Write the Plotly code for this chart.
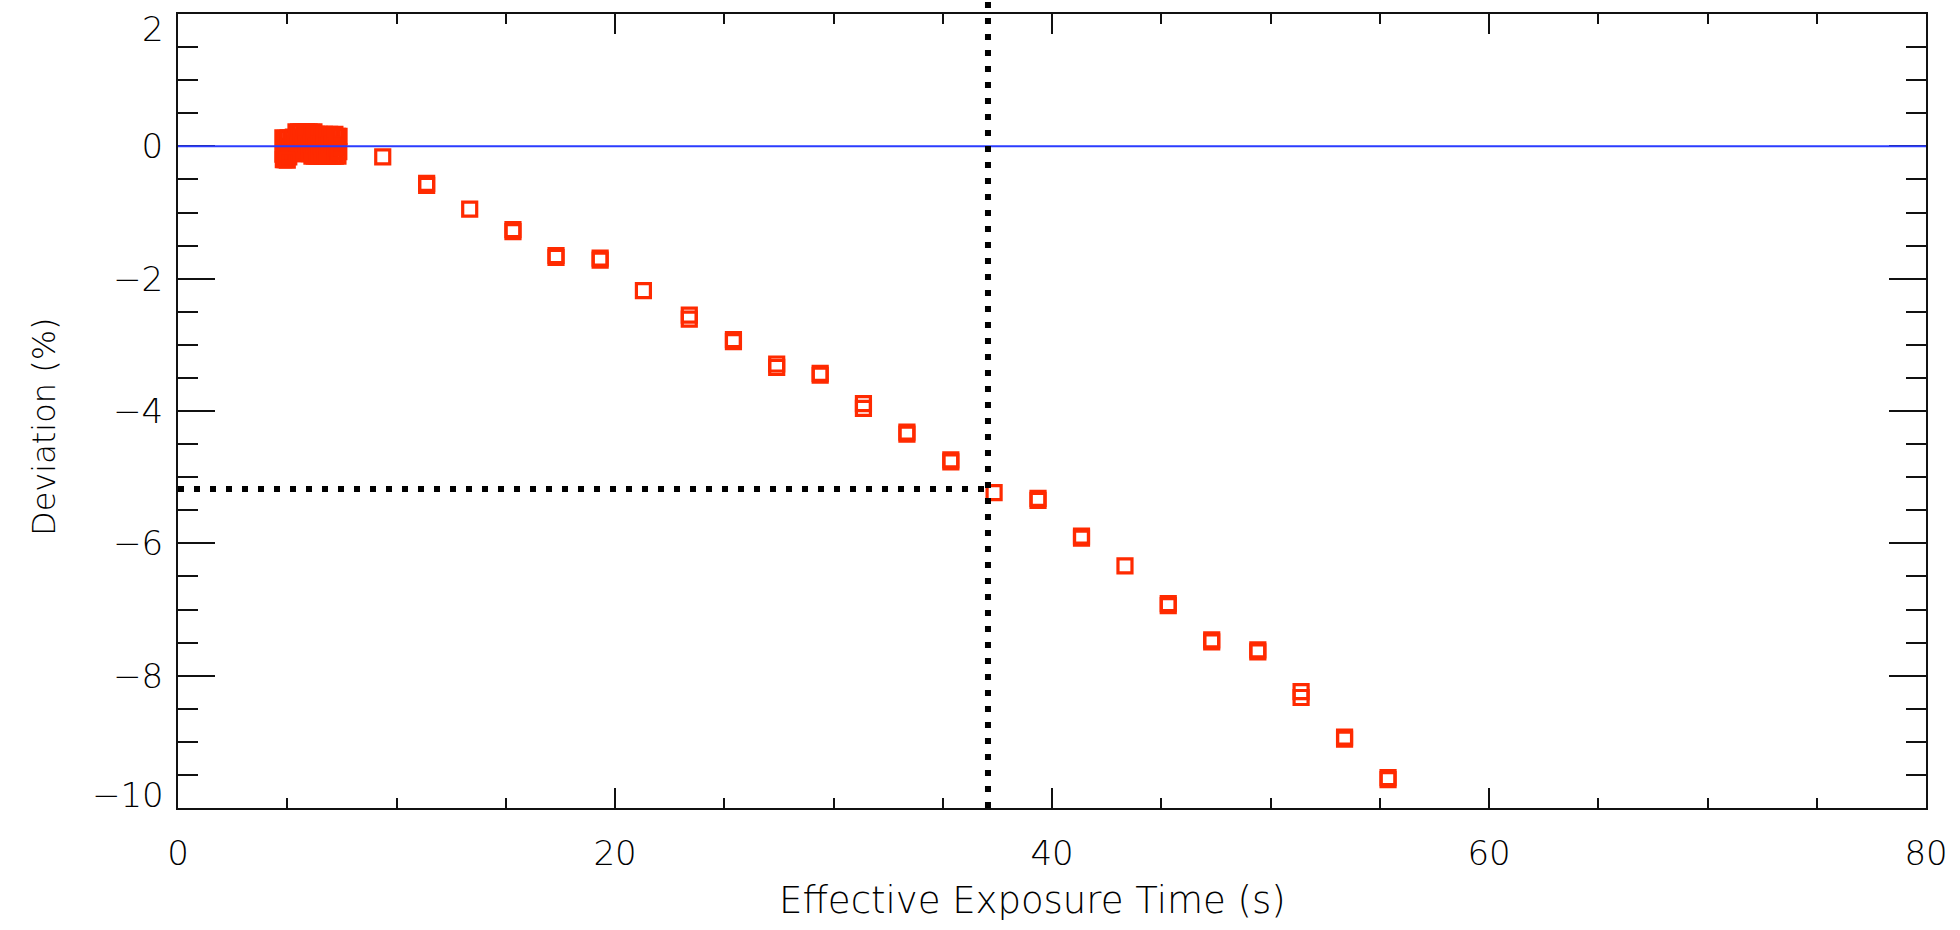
import plotly.graph_objects as go

# ---- data ----
# dense cluster of short exposures
cluster_x = [4.80, 4.84, 4.82, 4.92, 4.95, 4.90, 5.04, 5.06, 5.02, 5.16, 5.14, 5.17,
             5.28, 5.26, 5.29, 5.40, 5.38, 5.41, 5.52, 5.50, 5.53, 5.64, 5.62, 5.65,
             5.76, 5.74, 5.77, 5.88, 5.86, 5.89, 6.00, 5.98, 6.01, 6.12, 6.10, 6.13,
             6.22, 6.21, 6.24, 6.34, 6.33, 6.36, 6.46, 6.45, 6.48, 6.58, 6.57, 6.60,
             6.70, 6.69, 6.72, 6.82, 6.81, 6.84, 6.94, 6.93, 6.96, 7.06, 7.05, 7.08,
             7.18, 7.17, 7.20, 7.30, 7.29, 7.32, 7.37, 7.36,
             4.86, 4.96, 5.07, 4.80, 4.89, 5.00]
cluster_y = [0.13, -0.03, -0.20, 0.12, -0.02, -0.20, 0.13, 0.00, -0.10, 0.12, -0.03, -0.10,
             0.14, 0.02, -0.10, 0.22, 0.04, -0.10, 0.22, 0.02, -0.11, 0.22, 0.05, -0.10,
             0.21, 0.01, -0.11, 0.22, 0.03, -0.10, 0.22, 0.00, -0.11, 0.21, 0.04, -0.15,
             0.22, 0.02, -0.15, 0.18, 0.00, -0.15, 0.18, 0.03, -0.14, 0.17, 0.01, -0.15,
             0.18, 0.04, -0.15, 0.17, 0.00, -0.15, 0.18, 0.02, -0.14, 0.17, 0.03, -0.15,
             0.18, 0.00, -0.15, 0.15, -0.02, -0.15, 0.15, -0.08,
             -0.17, -0.19, -0.16, -0.12, -0.14, -0.21]

# longer exposures (pairs of near-identical measurements)
exp_x = [9.37, 11.38, 11.38, 13.35, 15.33, 15.33, 17.30, 17.30, 19.32, 19.32,
         21.30, 23.40, 23.40, 25.42, 25.42, 27.40, 27.40, 29.39, 29.39, 31.37, 31.37,
         33.36, 33.36, 35.37, 35.37, 37.35, 39.36, 39.36, 41.35, 41.35, 43.34,
         45.32, 45.32, 47.31, 47.31, 49.42, 49.42, 51.40, 51.40, 53.39, 53.39,
         55.38, 55.38]
exp_y = [-0.16, -0.56, -0.59, -0.95, -1.26, -1.29, -1.65, -1.68, -1.69, -1.72,
         -2.18, -2.55, -2.61, -2.92, -2.95, -3.29, -3.34, -3.43, -3.46, -3.89, -3.96,
         -4.32, -4.35, -4.74, -4.77, -5.235, -5.32, -5.35, -5.89, -5.92, -6.34,
         -6.91, -6.94, -7.46, -7.49, -7.61, -7.64, -8.24, -8.33, -8.93, -8.96,
         -9.54, -9.57]

ref_level = 0.0           # zero-deviation reference
threshold_x = 37.07       # exposure time marked by dotted line
threshold_y = -5.18       # deviation marked by dotted line

x_range = [0, 80]
y_range = [-10, 2]
x_ticks = [0, 20, 40, 60, 80]
y_ticks = [2, 0, -2, -4, -6, -8, -10]
y_ticktext = ["2", "0", "\u22122", "\u22124", "\u22126", "\u22128", "\u221210"]
x_title = "Effective Exposure Time (s)"
y_title = "Deviation (%)"

RED = "#ff2a00"
BLUE = "#2b3cff"
AX = "#111111"
FONT = "DejaVu Sans"
TICKFONT = dict(family=FONT, size=34, color="black", weight=200)

fig = go.Figure()

fig.add_trace(go.Scatter(
    x=cluster_x + exp_x, y=cluster_y + exp_y, mode="markers",
    marker=dict(symbol="square-open", size=14, color=RED,
                line=dict(color=RED, width=3.2)),
    showlegend=False))

# zero reference line (drawn above the axis ticks)
fig.add_shape(type="line", xref="x", yref="y",
              x0=x_range[0], x1=x_range[1], y0=ref_level, y1=ref_level,
              line=dict(color=BLUE, width=2), layer="above")

# dotted guide lines
fig.add_shape(type="line", xref="x", yref="y",
              x0=x_range[0], x1=threshold_x, y0=threshold_y, y1=threshold_y,
              line=dict(color="black", width=6, dash="6px,10px"), layer="above")
fig.add_shape(type="line", xref="x domain", yref="paper",
              x0=(threshold_x - x_range[0]) / (x_range[1] - x_range[0]),
              x1=(threshold_x - x_range[0]) / (x_range[1] - x_range[0]),
              y0=0, y1=1.02,
              line=dict(color="black", width=6, dash="6px,10px"), layer="above")

# end labels of the y axis sit inside the axis span, as in the original
shown_text = [("" if v in (y_range[0], y_range[1]) else t) for v, t in zip(y_ticks, y_ticktext)]
for v, t in zip(y_ticks, y_ticktext):
    if v == y_range[1]:
        fig.add_annotation(x=0, xref="paper", y=v, yref="y", text=t, showarrow=False,
                           xanchor="right", yanchor="middle", xshift=-12, yshift=-15,
                           font=TICKFONT)
    elif v == y_range[0]:
        fig.add_annotation(x=0, xref="paper", y=v, yref="y", text=t, showarrow=False,
                           xanchor="right", yanchor="middle", xshift=-12, yshift=13,
                           font=TICKFONT)

# axis titles
fig.add_annotation(x=0.5, xref="paper", y=0, yref="paper", text=x_title, showarrow=False,
                   xanchor="center", yanchor="middle", xshift=-20, yshift=-92,
                   font=dict(family=FONT, size=37, color="black", weight=200))
fig.add_annotation(x=0, xref="paper", y=0.5, yref="paper", text=y_title, showarrow=False,
                   textangle=-90, xanchor="center", yanchor="middle", xshift=-134, yshift=-16,
                   font=dict(family=FONT, size=32, color="black", weight=200))

fig.update_xaxes(
    range=x_range, tickmode="array", tickvals=x_ticks,
    ticks="inside", ticklen=20, tickwidth=2, tickcolor=AX,
    minor=dict(dtick=5, tick0=0, ticks="inside", ticklen=10, tickwidth=2, tickcolor=AX),
    showline=True, linewidth=2, linecolor=AX, mirror="allticks",
    showgrid=False, zeroline=False,
    tickfont=TICKFONT,
    ticklabelstandoff=14,
)
fig.update_yaxes(
    range=y_range, tickmode="array", tickvals=y_ticks, ticktext=shown_text,
    ticks="inside", ticklen=37, tickwidth=2, tickcolor=AX,
    minor=dict(dtick=0.5, tick0=0, ticks="inside", ticklen=20, tickwidth=2, tickcolor=AX),
    showline=True, linewidth=2, linecolor=AX, mirror="allticks",
    showgrid=False, zeroline=False,
    tickfont=TICKFONT,
    ticklabelstandoff=6,
)

fig.update_layout(
    width=1960, height=930,
    margin=dict(l=178, r=32, t=14, b=122),
    plot_bgcolor="white", paper_bgcolor="white",
    showlegend=False,
)

fig.write_html("out.html")
